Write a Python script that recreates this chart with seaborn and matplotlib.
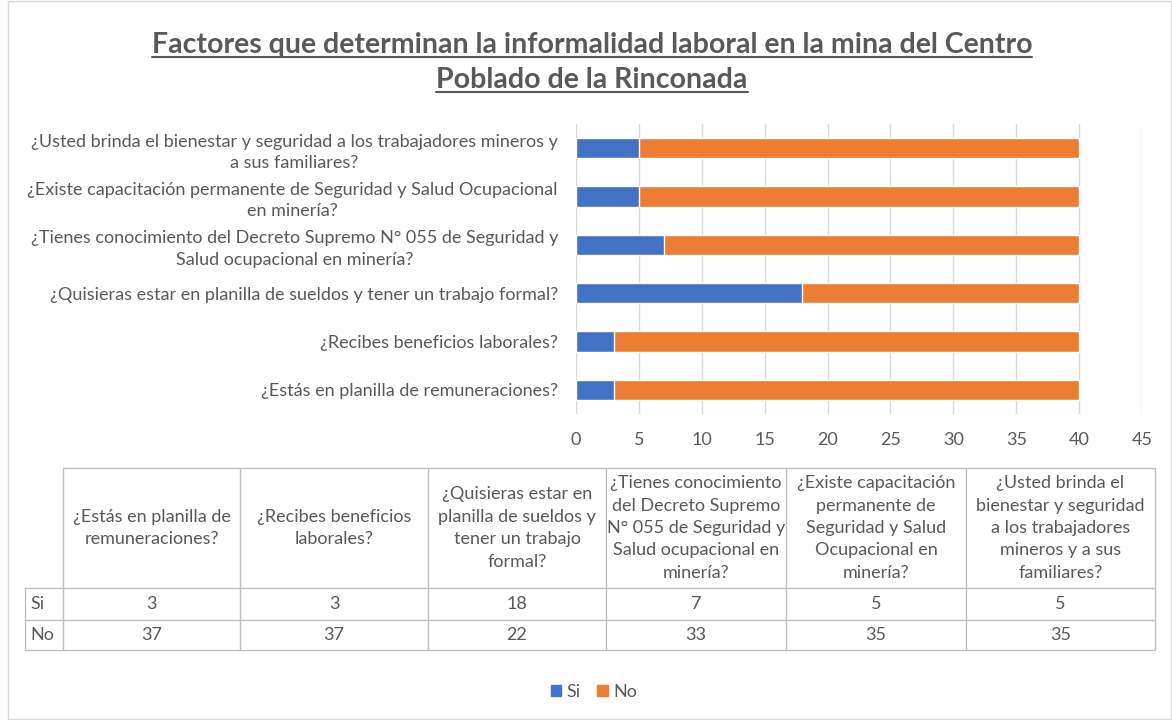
import matplotlib
matplotlib.use("Agg")
import matplotlib.pyplot as plt
import seaborn as sns
import pandas as pd
from matplotlib.lines import Line2D
from matplotlib.patches import Rectangle

# ---------------- data ----------------
questions_chart = [
    "¿Estás en planilla de remuneraciones?",
    "¿Recibes beneficios laborales?",
    "¿Quisieras estar en planilla de sueldos y tener un trabajo formal?",
    "¿Tienes conocimiento del Decreto Supremo N° 055 de Seguridad y\nSalud ocupacional en minería?",
    "¿Existe capacitación permanente de Seguridad y Salud Ocupacional\nen minería?",
    "¿Usted brinda el bienestar y seguridad a los trabajadores mineros y\na sus familiares?",
]
questions_table = [
    "¿Estás en planilla de\nremuneraciones?",
    "¿Recibes beneficios\nlaborales?",
    "¿Quisieras estar en\nplanilla de sueldos y\ntener un trabajo\nformal?",
    "¿Tienes conocimiento\ndel Decreto Supremo\nN° 055 de Seguridad y\nSalud ocupacional en\nminería?",
    "¿Existe capacitación\npermanente de\nSeguridad y Salud\nOcupacional en\nminería?",
    "¿Usted brinda el\nbienestar y seguridad\na los trabajadores\nmineros y a sus\nfamiliares?",
]
si_values = [3, 3, 18, 7, 5, 5]
no_values = [37, 37, 22, 33, 35, 35]
series_names = ["Si", "No"]
x_ticks = [0, 5, 10, 15, 20, 25, 30, 35, 40, 45]
title_lines = [
    "Factores que determinan la informalidad laboral en la mina del Centro",
    "Poblado de la Rinconada",
]

# ---------------- style ----------------
BLUE = "#4472C4"
ORANGE = "#ED7D31"
TXT = "#595959"
GRID = "#D9D9D9"
LINE = "#BFBFBF"
FS = 13

sns.set_theme(style="white")
plt.rcParams["font.family"] = ["Lato", "DejaVu Sans"]

W, H = 1172, 720
fig = plt.figure(figsize=(W / 100, H / 100), dpi=100)


def fx(px):
    return px / W


def fy(py):
    return 1 - py / H


# ---------------- bar chart ----------------
ax = fig.add_axes([fx(576), fy(414), (1142 - 576) / W, (414 - 124) / H])
df = pd.DataFrame({"q": questions_chart, "Si": si_values, "No": no_values})
df["total"] = df["Si"] + df["No"]
order = list(reversed(questions_chart))

sns.barplot(data=df, y="q", x="total", order=order, color=ORANGE,
            width=0.42, saturation=1, errorbar=None, ax=ax)
sns.barplot(data=df, y="q", x="Si", order=order, color=BLUE,
            width=0.42, saturation=1, errorbar=None, ax=ax)

ax.set_xlim(0, 45)
ax.set_xticks(x_ticks)
ax.set_xlabel("")
ax.set_ylabel("")
ax.grid(axis="x", color=GRID, lw=1)
ax.grid(axis="y", visible=False)
ax.set_axisbelow(True)
for s in ax.spines.values():
    s.set_visible(False)
ax.tick_params(axis="x", length=0, pad=13, labelsize=FS, labelcolor=TXT)
ax.tick_params(axis="y", length=0, pad=13, labelsize=FS, labelcolor=TXT)
for lab in ax.get_yticklabels():
    lab.set_multialignment("center")
    lab.set_linespacing(1.4)

# ---------------- title ----------------
title_texts = []
for i, line in enumerate(title_lines):
    t = fig.text(fx(592), fy(45 + 35 * i), line, ha="center", va="center",
                 fontsize=20.5, fontweight="bold", color=TXT)
    title_texts.append(t)

# ---------------- table ----------------
col_x = [63, 240, 428, 606, 786, 966, 1155]
row_y = [468, 588, 620, 650]


def hline(y, x0, x1):
    fig.add_artist(Line2D([fx(x0), fx(x1)], [fy(y), fy(y)], color=LINE, lw=1,
                          transform=fig.transFigure))


def vline(x, y0, y1):
    fig.add_artist(Line2D([fx(x), fx(x)], [fy(y0), fy(y1)], color=LINE, lw=1,
                          transform=fig.transFigure))


hline(row_y[0], col_x[0], col_x[-1])
for y in row_y[1:]:
    hline(y, 25, col_x[-1])
vline(25, row_y[1], row_y[-1])
for x in col_x:
    vline(x, row_y[0], row_y[-1])

for i, q in enumerate(questions_table):
    cx = (col_x[i] + col_x[i + 1]) / 2
    fig.text(fx(cx), fy((row_y[0] + row_y[1]) / 2), q, ha="center", va="center",
             multialignment="center", fontsize=FS, color=TXT, linespacing=1.5)
    fig.text(fx(cx), fy((row_y[1] + row_y[2]) / 2), str(si_values[i]), ha="center",
             va="center", fontsize=FS, color=TXT)
    fig.text(fx(cx), fy((row_y[2] + row_y[3]) / 2), str(no_values[i]), ha="center",
             va="center", fontsize=FS, color=TXT)
fig.text(fx(30), fy((row_y[1] + row_y[2]) / 2), series_names[0], ha="left", va="center",
         fontsize=FS, color=TXT)
fig.text(fx(30), fy((row_y[2] + row_y[3]) / 2), series_names[1], ha="left", va="center",
         fontsize=FS, color=TXT)

# ---------------- legend ----------------
handles = [Rectangle((0, 0), 1, 1, color=BLUE), Rectangle((0, 0), 1, 1, color=ORANGE)]
fig.legend(handles, series_names, loc="center", bbox_to_anchor=(fx(594), fy(692)),
           ncol=2, frameon=False, handlelength=0.6, handleheight=0.6,
           handletextpad=0.3, columnspacing=0.9, fontsize=FS, labelcolor=TXT)

# ---------------- border ----------------
fig.add_artist(Rectangle((fx(8), fy(719)), fx(1171) - fx(8), (719 - 1) / H, fill=False,
                         edgecolor=GRID, lw=1, transform=fig.transFigure))

# ---------------- underline title ----------------
fig.canvas.draw()
renderer = fig.canvas.get_renderer()
for t in title_texts:
    bb = t.get_window_extent(renderer)
    yline = bb.y0 + 1
    fig.add_artist(Line2D([bb.x0 / W, bb.x1 / W], [yline / H, yline / H],
                          color=TXT, lw=1.5, transform=fig.transFigure))

fig.savefig("out.png", dpi=100)
